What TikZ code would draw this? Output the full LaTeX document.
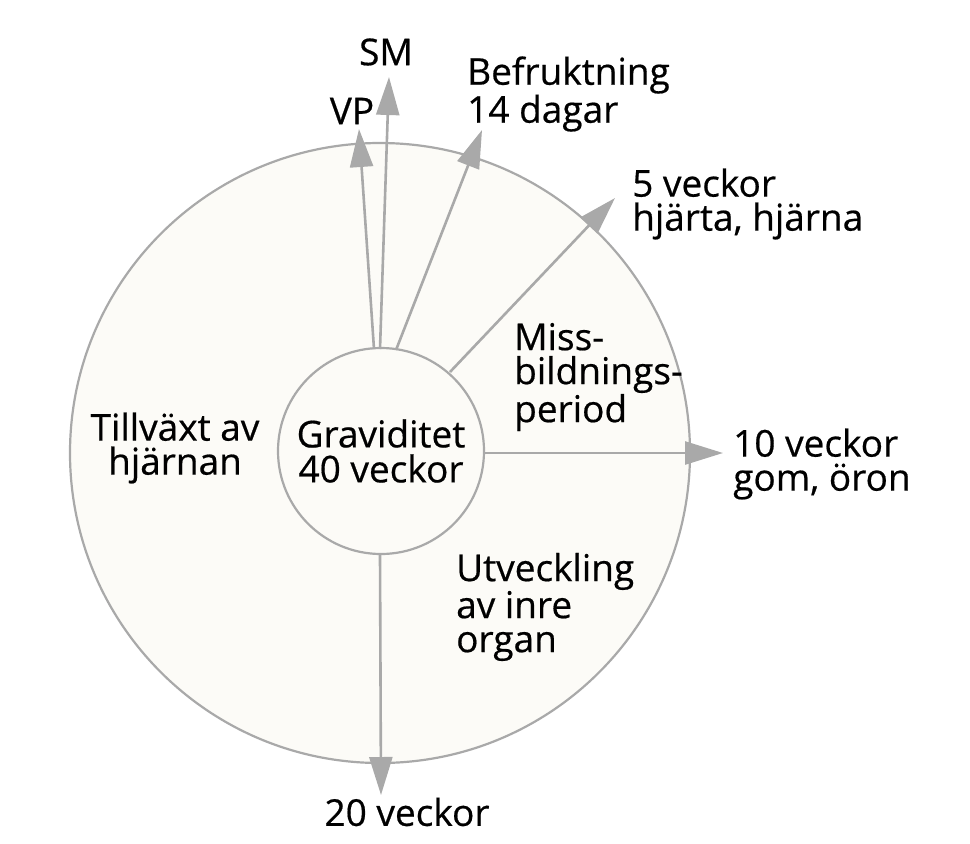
\documentclass[tikz,border=0pt]{standalone}
\usepackage{fontspec}
\setmainfont{Open Sans}[FakeBold=0.5]
\usetikzlibrary{arrows.meta}
\definecolor{lgray}{HTML}{A9A9A9}
\definecolor{cream}{HTML}{FCFBF7}
\tikzset{
  ring/.style={circle, draw=lgray, line width=2.2pt, fill=cream, inner sep=0pt},
  arr/.style={draw=lgray, line width=2.6pt, -{Triangle[length=38pt,width=23pt]}},
  lbl/.style={font=\fontsize{37}{34}\selectfont, inner sep=0pt, text=black},
}
\begin{document}
\begin{tikzpicture}[x=1pt,y=-1pt]
\useasboundingbox (0,0) rectangle (970,844);
\node[ring, minimum size=620pt] (outer) at (380,453) {};
\node[ring, minimum size=206pt, lbl, align=center, font=\fontsize{37}{35}\selectfont] (inner) at (381,451) {Graviditet\\40 veckor};
% start points on inner circle
\coordinate (sVP) at (374,349);
\coordinate (sSM) at (380,349);
\coordinate (sBe) at (396,350);
\coordinate (s5) at (450,372);
\coordinate (s10) at (484,453);
\coordinate (s20) at (380,555);
% tips
\coordinate (tVP) at (359,129);
\coordinate (tSM) at (389,77);
\coordinate (tBe) at (482,130);
\coordinate (t5) at (615,198);
\coordinate (t10) at (723,453);
\coordinate (t20) at (381,795);
\draw[arr] (sVP) -- (tVP);
\draw[arr] (sSM) -- (tSM);
\draw[arr] (sBe) -- (tBe);
\draw[arr] (s5) -- (t5);
\draw[arr] (s10) -- (t10);
\draw[arr] (s20) -- (t20);
% labels
\node[lbl] (SM) at (386,52) {SM};
\node[lbl] (VP) at (352,111) {VP};
\node[lbl, align=left, anchor=west] (befr) at (467,94) {Befruktning\\14 dagar};
\node[lbl, align=left, anchor=west] (v5) at (632,204) {5 veckor\\hjärta, hjärna};
\node[lbl, align=left, anchor=west] (miss) at (514,377) {Miss-\\bildnings-\\period};
\node[lbl, align=left, anchor=west] (v10) at (733,464) {10 veckor\\gom, öron};
\node[lbl, align=center] (till) at (175,448) {Tillväxt av\\hjärnan};
\node[lbl, align=left, anchor=west] (utv) at (456,607) {Utveckling\\av inre\\organ};
\node[lbl] (v20) at (407,812) {20 veckor};
\end{tikzpicture}
\end{document}
